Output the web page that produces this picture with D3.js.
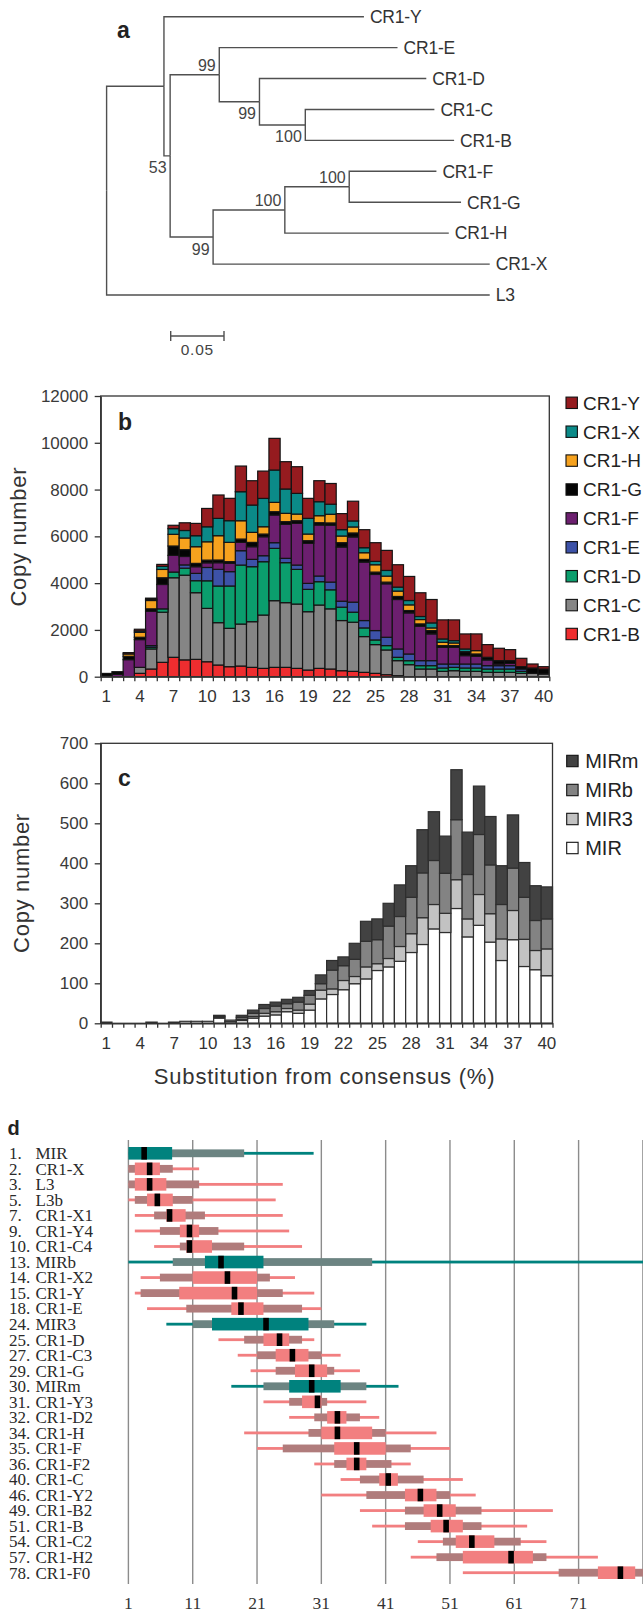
<!DOCTYPE html>
<html><head><meta charset="utf-8">
<script src="https://cdn.jsdelivr.net/npm/d3@7"></script>
<style>
body{margin:0;background:#fff}
svg{display:block}
.sans{font-family:"Liberation Sans",Arial,Helvetica,sans-serif}
.serif{font-family:"Liberation Serif","Times New Roman",Times,serif}
</style>
</head><body>
<svg id="fig" width="643" height="1613"></svg>
<script>
// ================= DATA =================
// ---- panel a: phylogenetic tree (branch lengths in substitutions/site) ----
const treeIds     = ["root","nA","CR1-Y","nB","nC","CR1-E","nD","CR1-D","nE","CR1-C","CR1-B","nF","nG","nH","CR1-F","CR1-G","CR1-H","CR1-X","L3"];
const treeParents = ["",   "root","nA",  "nA","nB","nC",  "nC","nD",  "nD","nE",  "nE",  "nB","nF","nG","nH",  "nH",  "nG",  "nF",  "root"];
const treeLengths = [0, 0.0538, 0.1876, 0.0058, 0.0461, 0.1672, 0.0377, 0.1565, 0.0430, 0.1211, 0.1396, 0.0403, 0.0673, 0.0604, 0.0818, 0.1049, 0.1538, 0.2595, 0.3594];
const bootNodes   = ["nB","nC","nD","nE","nF","nG","nH"];
const bootValues  = [53, 99, 99, 100, 99, 100, 100];
const bootAbove   = [false, true, false, false, false, true, true];
const scaleBarValue = 0.05;

// ---- panel b: CR1 copy numbers per substitution bin ----
const bins = d3.range(1, 41);
const binTickLabels = [1,4,7,10,13,16,19,22,25,28,31,34,37,40];
const cr1Families = ["CR1-B","CR1-C","CR1-D","CR1-E","CR1-F","CR1-G","CR1-H","CR1-X","CR1-Y"];
const cr1B = [0,0,0,143,329,614,829,720,741,640,500,428,456,400,356,400,400,356,285,356,329,257,229,186,143,86,43,0,0,0,0,0,0,0,0,0,0,0,0,0];
const cr1C = [30,0,0,257,857,2143,3401,3620,2850,2280,1810,1640,1795,1952,2280,2850,2765,2750,2494,2708,2572,2143,2100,1529,1229,1057,643,514,329,329,229,257,229,229,186,186,186,143,143,114];
const cr1D = [0,0,0,0,72,143,243,300,513,1180,1567,1810,2522,2351,2280,2237,1710,1482,955,998,814,571,429,371,200,186,143,171,143,143,143,143,143,143,143,143,143,86,0,0];
const cr1E = [0,0,0,0,71,0,0,140,313,570,712,613,613,313,256,242,185,185,256,242,329,257,429,314,400,357,357,286,214,214,171,143,171,171,143,143,143,100,0,0];
const cr1F = [0,100,729,1186,1472,1043,714,360,285,200,285,356,356,541,812,1183,1454,1781,1710,2180,2430,2315,2787,2500,2400,2286,2115,1757,1472,1143,714,714,357,329,243,71,100,0,0,0];
const cr1G = [110,114,143,100,100,286,400,290,143,114,114,71,142,185,114,142,114,114,114,100,100,186,171,114,100,71,129,100,100,143,71,71,171,100,114,143,114,100,229,214];
const cr1H = [0,0,100,214,357,357,500,500,712,784,1040,826,784,428,313,399,356,285,285,299,371,286,257,286,314,257,229,243,186,114,143,114,0,143,0,0,0,0,0,0];
const cr1X = [0,0,0,60,50,129,243,320,470,641,740,926,1240,1168,1211,1382,1040,884,670,598,429,271,257,214,143,243,171,186,129,214,143,100,114,0,0,0,0,0,0,0];
const cr1Y = [0,0,57,69,50,86,143,330,527,784,1000,955,1097,1040,1168,1354,1168,1140,855,898,886,686,843,771,800,857,957,1029,1015,1000,815,886,643,714,543,529,471,357,171,100];
const cr1YTicks = [0,2000,4000,6000,8000,10000,12000];
const cr1Colors = ["#ee2d2f","#858585","#0b9e6d","#3d52a8","#6c1f6f","#050505","#f6a21e","#0b8a88","#951b1f"];

// ---- panel c: MIR copy numbers per substitution bin ----
const mirFamilies = ["MIR","MIR3","MIRb","MIRm"];
const mirMIR  = [3,0,0,0,3,0,3,5,5,5,13,4,7,13,18,21,29,25,33,61,72,84,99,111,132,141,155,177,197,236,227,287,216,245,203,157,209,142,134,119];
const mirMIR3 = [0,0,0,0,0,0,0,0,0,0,3,0,3,4,7,8,8,8,15,22,14,23,18,30,17,21,37,47,67,61,48,72,45,77,71,54,73,68,48,67];
const mirMIRb = [0,0,0,0,0,0,0,0,0,0,2,4,5,8,12,14,12,20,22,16,47,37,43,64,60,81,75,91,112,110,100,150,111,150,122,86,106,105,75,75];
const mirMIRm = [0,0,0,0,0,0,0,0,0,0,2,0,5,8,10,10,11,12,12,22,24,22,40,50,52,57,79,79,108,122,93,125,106,121,121,97,133,87,87,80];
const mirYTicks = [0,100,200,300,400,500,600,700];
const mirColors = ["#ffffff","#c2c2c2","#838383","#424242"];

// ---- panel d: substitution-level distributions per family ----
const dRanks  = [1,2,3,5,7,9,10,13,14,15,18,24,25,27,29,30,31,32,34,35,36,40,46,49,51,54,57,78];
const dNames  = ["MIR","CR1-X","L3","L3b","CR1-X1","CR1-Y4","CR1-C4","MIRb","CR1-X2","CR1-Y","CR1-E","MIR3","CR1-D","CR1-C3","CR1-G","MIRm","CR1-Y3","CR1-D2","CR1-H","CR1-F","CR1-F2","CR1-C","CR1-Y2","CR1-B2","CR1-B","CR1-C2","CR1-H2","CR1-F0"];
const dLineLo  = [1,1,1,1,2,2,5,1,2.9,2,3.9,6.9,15,18,20,17,22,26,19,21,29.9,34,31,37,38.9,46,44.9,53];
const dLineHi  = [29.8,12,25,23.9,25,26,28,110,26.9,29.9,31,38,29.9,34,37,43,38,40,48.9,51,44.9,53,55,67,63,66,74,110];
const dOuterLo = [1,1,1,2,5,5.9,9,7.9,5.9,2.9,10,11,19,21,23.9,22,26,29.9,29,25,33,37,38,44,44,49.9,48.9,67.9];
const dOuterHi = [19,7.9,12,11,12.9,15,19,38.9,23,25,28,33,28,31,33,38,31.9,37,41,44.9,41.9,46.9,51,55.9,55.9,62,66,100];
const dInnerLo = [1,2,2,3.9,6.9,9,10,12.9,11,8.9,17,14,22,23.9,26.9,26,28,31.9,31,33,34.9,40,44,46.9,48,51.9,53,74];
const dInnerHi = [7.8,5.9,6.9,7.9,9.9,12,14,22,21,21,22,29,26,29,31.9,34,31,34.9,38.9,41,38,42.9,48.9,51.9,53,57.9,63.9,79.8];
const dMedian  = [3.45,4.3,4.3,5.5,7.4,10.5,10.5,15.4,16.4,17.5,18.5,22.4,24.5,26.5,29.5,29.5,30.4,33.5,33.5,36.5,36.5,41.4,46.4,49.4,50.4,54.4,60.5,77.5];
const dAxisTicks = [1,11,21,31,41,51,61,71];

// ================= DRAW =================
const svg = d3.select("#fig");
const ink = "#333";

// ---------- panel a ----------
{
  const g = svg.append("g").attr("class","sans");
  const root = d3.stratify().id(d=>d.id).parentId(d=>d.parent)(
    treeIds.map((id,i)=>({id, parent: treeParents[i] || null, len: treeLengths[i]})));
  root.eachBefore(n => n.dist = n.parent ? n.parent.dist + n.data.len : 0);
  const leaves = root.leaves();
  const leafY = d3.scaleLinear().domain([0, leaves.length-1]).range([16.7, 295]);
  leaves.forEach((l,i)=> l.py = leafY(i));
  root.eachAfter(n => { if (n.children) n.py = d3.mean(n.children, c=>c.py); });
  const tx = d3.scaleLinear().domain([0, scaleBarValue]).range([106.6, 159.9]);
  root.each(n => n.px = tx(n.dist));

  g.selectAll("path.br").data(root.descendants().filter(n=>n.parent)).join("path")
    .attr("class","br")
    .attr("d", n => `M${n.parent.px},${n.parent.py}V${n.py}H${n.px}`)
    .attr("fill","none").attr("stroke","#505050").attr("stroke-width",1.4);

  g.selectAll("text.leaf").data(leaves).join("text")
    .attr("class","leaf")
    .attr("x", n => n.px + 6).attr("y", n => n.py + 6.3)
    .attr("font-size", 17.5).attr("fill", ink).attr("letter-spacing", -0.2)
    .text(n => n.id);

  const byId = new Map(root.descendants().map(n=>[n.id,n]));
  g.selectAll("text.bs").data(bootNodes).join("text")
    .attr("class","bs")
    .attr("x", (id) => byId.get(id).px - 3.5)
    .attr("y", (id,i) => bootAbove[i] ? byId.get(id).py - 4 : byId.get(id).py + 17.5)
    .attr("text-anchor","end").attr("font-size",16).attr("fill","#444")
    .text((id,i)=>bootValues[i]);

  g.append("text").attr("x",117).attr("y",37.5).attr("font-size",23).attr("font-weight","bold").attr("fill","#222").text("a");

  // scale bar
  const sbx0 = 170.7, sbLen = tx(scaleBarValue) - tx(0), sby = 336;
  g.append("path").attr("d",`M${sbx0},${sby-5}V${sby+5}M${sbx0},${sby}H${sbx0+sbLen}M${sbx0+sbLen},${sby-5}V${sby+5}`)
    .attr("fill","none").attr("stroke","#505050").attr("stroke-width",1.4);
  g.append("text").attr("x", sbx0 + sbLen/2).attr("y", 355).attr("text-anchor","middle")
    .attr("font-size",15.5).attr("fill","#444").attr("letter-spacing",0.8).text(scaleBarValue);
}

// ---------- stacked bar panel helper ----------
function stackedPanel(opt){
  const g = svg.append("g").attr("class","sans");
  const x = d3.scaleBand().domain(bins).range([opt.left, opt.right]).paddingInner(0).paddingOuter(0);
  const y = d3.scaleLinear().domain([0, opt.yMax]).range([opt.bottom, opt.top]);
  const edge = d3.scaleLinear().domain([0.5, bins.length + 0.5]).range([opt.left, opt.right]);
  const rows = bins.map((b,i)=>{ const r = {bin:b}; opt.keys.forEach((k,j)=> r[k] = opt.series[j][i]); return r; });
  const layers = d3.stack().keys(opt.keys)(rows);

  g.selectAll("g.layer").data(layers).join("g").attr("class","layer")
    .attr("fill",(d,i)=>opt.colors[i])
    .selectAll("rect").data(d=>d.filter(v=>v[1]-v[0] > 0)).join("rect")
    .attr("x", d=>x(d.data.bin)).attr("width", x.bandwidth())
    .attr("y", d=>y(d[1])).attr("height", d=>y(d[0]) - y(d[1]))
    .attr("stroke", opt.barStroke).attr("stroke-width",1.2);

  // frame
  g.append("rect").attr("x",opt.left).attr("y",opt.top).attr("width",opt.right-opt.left).attr("height",opt.bottom-opt.top)
    .attr("fill","none").attr("stroke",ink).attr("stroke-width",1.3);

  // axes
  const ya = g.append("g").attr("transform",`translate(${opt.left},0)`)
    .call(d3.axisLeft(y).tickValues(opt.yTicks).tickSize(6).tickSizeOuter(0).tickPadding(6.5).tickFormat(d3.format("d")));
  const xe = g.append("g").attr("transform",`translate(0,${opt.bottom})`)
    .call(d3.axisBottom(edge).tickValues(d3.range(0.5, bins.length + 1, 1)).tickSize(4.5).tickSizeOuter(0).tickFormat(""));
  const xl = g.append("g").attr("transform",`translate(0,${opt.bottom})`)
    .call(d3.axisBottom(x).tickValues(binTickLabels).tickSize(0).tickPadding(13.5));
  xl.select(".domain").remove();
  [ya,xe,xl].forEach(a=>{
    a.selectAll("path,line").attr("stroke",ink).attr("stroke-width",1.3);
    a.selectAll("text").attr("font-size",17).attr("fill",ink).attr("font-family",null);
  });
  ya.selectAll("text").attr("fill","#3a3a3a");

  // y label
  g.append("text").attr("transform",`translate(${opt.ylabX},${opt.ylabY}) rotate(-90)`)
    .attr("text-anchor","middle").attr("font-size",22).attr("letter-spacing",0.7).attr("fill",ink).text("Copy number");

  // panel letter
  g.append("text").attr("x",118).attr("y",opt.letterY).attr("font-size",23).attr("font-weight","bold").attr("fill","#222").text(opt.letter);

  // legend (top entry = last stacked key)
  const leg = g.append("g");
  const items = opt.keys.map((k,i)=>({k, c: opt.colors[i]})).reverse();
  const lg = leg.selectAll("g").data(items).join("g")
    .attr("transform",(d,i)=>`translate(${opt.legX},${opt.legY0 + i*opt.legDy})`);
  lg.append("rect").attr("x",0).attr("y",-5.7).attr("width",11.4).attr("height",11.4)
    .attr("fill",d=>d.c).attr("stroke","#111").attr("stroke-width",1.1);
  lg.append("text").attr("x",opt.legTextDx).attr("y",6.8).attr("font-size",opt.legFont).attr("fill","#222").text(d=>d.k);
  return g;
}

stackedPanel({
  left:100.7, right:549.3, top:396, bottom:676.7, yMax:12000, yTicks:cr1YTicks,
  keys:cr1Families, series:[cr1B,cr1C,cr1D,cr1E,cr1F,cr1G,cr1H,cr1X,cr1Y], colors:cr1Colors,
  barStroke:"#141414", ylabX:26, ylabY:536.7, letter:"b", letterY:430,
  legX:566, legY0:402.8, legDy:28.9, legTextDx:17, legFont:19
});

const gc = stackedPanel({
  left:100.7, right:552.5, top:743.3, bottom:1023.3, yMax:700, yTicks:mirYTicks,
  keys:mirFamilies, series:[mirMIR,mirMIR3,mirMIRb,mirMIRm], colors:mirColors,
  barStroke:"#2e2e2e", ylabX:28.5, ylabY:883, letter:"c", letterY:786,
  legX:566.7, legY0:761, legDy:29, legTextDx:18.5, legFont:20
});
gc.append("text").attr("x",(100.7+552.5)/2 - 2).attr("y",1084).attr("text-anchor","middle")
  .attr("font-size",22).attr("letter-spacing",0.8).attr("fill",ink).text("Substitution from consensus (%)");

// ---------- panel d ----------
{
  const g = svg.append("g");
  const x = d3.scaleLinear().domain([1, 71]).range([128.4, 578.6]);
  const rowY = d3.scaleLinear().domain([0, dNames.length-1]).range([1153.3, 1572.7]);
  const gridTop = 1140, gridBottom = 1584;
  const ticks = d3.range(1, 82, 10);

  g.selectAll("line.grid").data(ticks).join("line").attr("class","grid")
    .attr("x1",d=>x(d)).attr("x2",d=>x(d)).attr("y1",gridTop).attr("y2",gridBottom)
    .attr("stroke","#8c8c8c").attr("stroke-width",1.4);

  g.selectAll("text.tick").data(dAxisTicks).join("text").attr("class","tick serif")
    .attr("x",d=>x(d)).attr("y",1609).attr("text-anchor","middle").attr("font-size",17.5).attr("fill","#333")
    .text(d=>d);

  g.append("text").attr("class","sans").attr("x",7.5).attr("y",1135).attr("font-size",20).attr("font-weight","bold")
    .attr("fill","#222").text("d");

  const isMIR = n => n.startsWith("MIR");
  const pal = n => isMIR(n)
    ? {line:"#00827e", outer:"#6c8482", inner:"#00827e"}
    : {line:"#f27f80", outer:"#b07c7c", inner:"#f27f80"};
  const rows = dNames.map((n,i)=>({n, i, y: rowY(i), p: pal(n)}));

  const rg = g.selectAll("g.row").data(rows).join("g").attr("class","row");
  rg.append("rect").attr("x",d=>x(dLineLo[d.i])).attr("width",d=>x(dLineHi[d.i])-x(dLineLo[d.i]))
    .attr("y",d=>d.y-1.4).attr("height",2.8).attr("fill",d=>d.p.line);
  rg.append("rect").attr("x",d=>x(dOuterLo[d.i])).attr("width",d=>x(dOuterHi[d.i])-x(dOuterLo[d.i]))
    .attr("y",d=>d.y-3.9).attr("height",7.8).attr("fill",d=>d.p.outer);
  rg.append("rect").attr("x",d=>x(dInnerLo[d.i])).attr("width",d=>x(dInnerHi[d.i])-x(dInnerLo[d.i]))
    .attr("y",d=>d.y-6.3).attr("height",12.6).attr("fill",d=>d.p.inner);
  rg.append("rect").attr("x",d=>x(dMedian[d.i])-2.8).attr("width",5.6)
    .attr("y",d=>d.y-6.3).attr("height",12.6).attr("fill","#000");

  const lab = g.append("g").attr("class","serif").attr("font-size",17).attr("fill","#2a2a2a");
  lab.selectAll("text.num").data(rows).join("text").attr("class","num")
    .attr("x",9).attr("y",d=>d.y+5.8).text(d=>dRanks[d.i]+".");
  lab.selectAll("text.nm").data(rows).join("text").attr("class","nm")
    .attr("x",35.5).attr("y",d=>d.y+5.8).text(d=>d.n);
}
</script>
</body></html>
